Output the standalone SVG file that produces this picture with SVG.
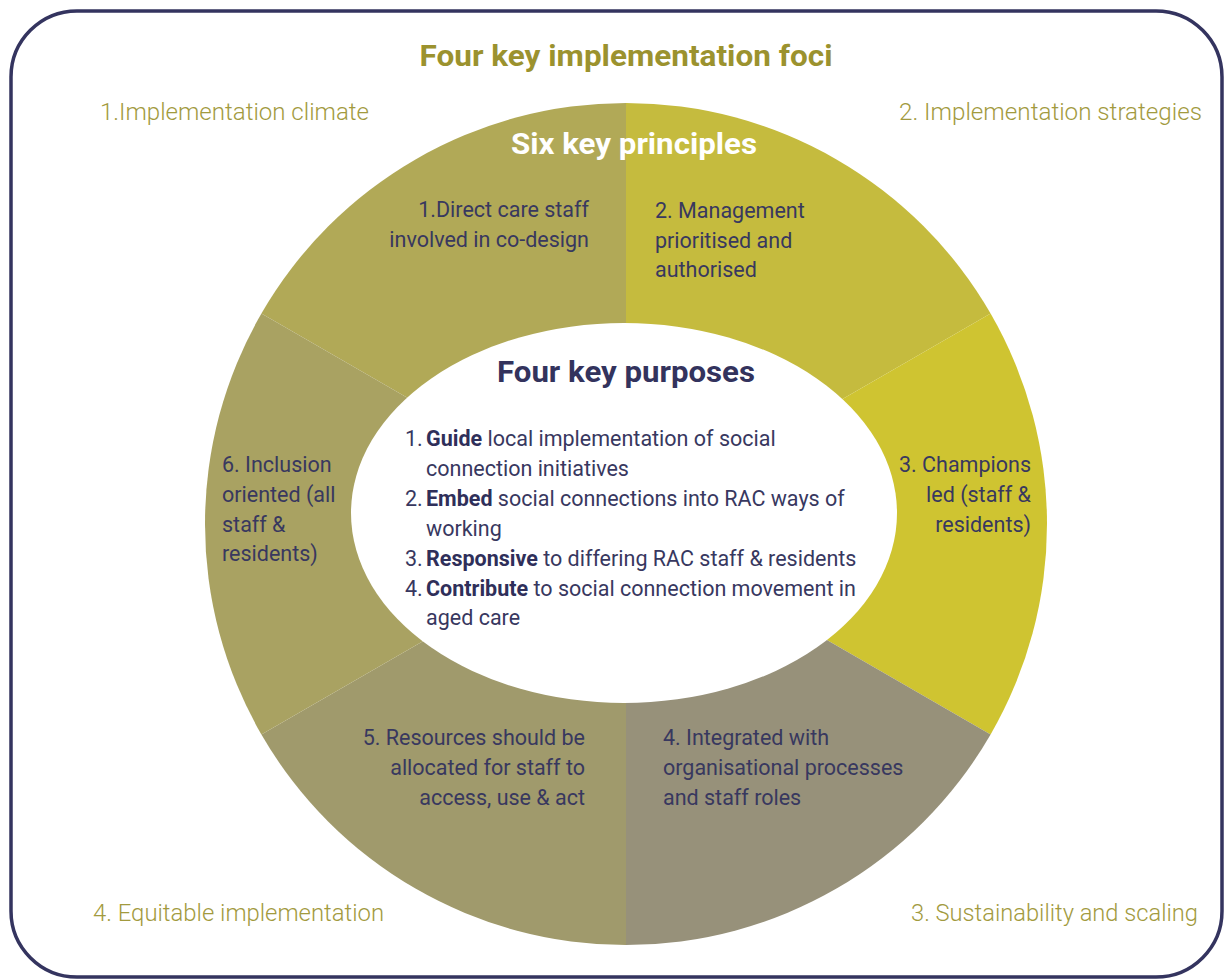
<svg xmlns="http://www.w3.org/2000/svg" width="1225" height="979" viewBox="0 0 1225 979">
  <style>
    .frame { fill: #ffffff; stroke: #34345f; stroke-width: 3.5; }
    .title { font-family: Roboto, "Liberation Sans", sans-serif; font-weight: 700; font-size: 29px; fill: #9b922e; text-anchor: middle; }
    .focus { font-family: Roboto, "Liberation Sans", sans-serif; font-weight: 300; font-size: 23px; fill: #a29a3e; }
    .ring-title { font-family: Roboto, "Liberation Sans", sans-serif; font-weight: 700; font-size: 30px; fill: #ffffff; text-anchor: middle; }
    .core-title { font-family: Roboto, "Liberation Sans", sans-serif; font-weight: 700; font-size: 30px; fill: #33335d; text-anchor: middle; }
    .label { font-family: Roboto, "Liberation Sans", sans-serif; font-weight: 400; font-size: 21.5px; fill: #38385f; }
    .end { text-anchor: end; }
    .b { font-weight: 700; fill: #2f2f5a; }
  </style>

  <!-- outer frame -->
  <rect class="frame" x="11" y="11" width="1211" height="966" rx="66" ry="66"/>

  <!-- headings and implementation foci -->
  <g id="heading">
    <text class="title" x="626" y="66" textLength="413" lengthAdjust="spacingAndGlyphs">Four key implementation foci</text>
  </g>
  <g id="focus-1"><text class="focus" x="100" y="120" textLength="269" lengthAdjust="spacingAndGlyphs">1.Implementation climate</text></g>
  <g id="focus-2"><text class="focus" x="899" y="120" textLength="303" lengthAdjust="spacingAndGlyphs">2. Implementation strategies</text></g>
  <g id="focus-3"><text class="focus" x="911" y="921" textLength="287" lengthAdjust="spacingAndGlyphs">3. Sustainability and scaling</text></g>
  <g id="focus-4"><text class="focus" x="93" y="921" textLength="291" lengthAdjust="spacingAndGlyphs">4. Equitable implementation</text></g>

  <!-- six principle wedges, centre (626,524), r=421 -->
  <g id="principle-1">
    <path d="M626,524 L626,103 A421,421 0 0 0 261.4,313.5 Z" fill="#b1a957"/>
  </g>
  <g id="principle-2">
    <path d="M626,524 L626,103 A421,421 0 0 1 990.6,313.5 Z" fill="#c5bb3e"/>
  </g>
  <g id="principle-3">
    <path d="M626,524 L990.6,313.5 A421,421 0 0 1 990.6,734.5 Z" fill="#cfc431"/>
  </g>
  <g id="principle-4">
    <path d="M626,524 L990.6,734.5 A421,421 0 0 1 626,945 Z" fill="#97917a"/>
  </g>
  <g id="principle-5">
    <path d="M626,524 L626,945 A421,421 0 0 1 261.4,734.5 Z" fill="#a09a6c"/>
  </g>
  <g id="principle-6">
    <path d="M626,524 L261.4,734.5 A421,421 0 0 1 261.4,313.5 Z" fill="#a9a262"/>
  </g>

  <g id="ring-heading">
    <text class="ring-title" x="634" y="154" textLength="246" lengthAdjust="spacingAndGlyphs">Six key principles</text>
  </g>

  <!-- principle labels -->
  <g id="principle-labels">
    <text class="label end" x="589" y="217">1.Direct care staff</text>
    <text class="label end" x="589" y="247">involved in co-design</text>

    <text class="label" x="655" y="218">2. Management</text>
    <text class="label" x="655" y="248">prioritised and</text>
    <text class="label" x="655" y="277">authorised</text>

    <text class="label end" x="1031" y="472">3. Champions</text>
    <text class="label end" x="1031" y="502">led (staff &amp;</text>
    <text class="label end" x="1031" y="532">residents)</text>

    <text class="label" x="663" y="745">4. Integrated with</text>
    <text class="label" x="663" y="775">organisational processes</text>
    <text class="label" x="663" y="805">and staff roles</text>

    <text class="label end" x="585" y="745">5. Resources should be</text>
    <text class="label end" x="585" y="775">allocated for staff to</text>
    <text class="label end" x="585" y="805">access, use &amp; act</text>

    <text class="label" x="222" y="472">6. Inclusion</text>
    <text class="label" x="222" y="502">oriented (all</text>
    <text class="label" x="222" y="532">staff &amp;</text>
    <text class="label" x="222" y="561">residents)</text>
  </g>

  <!-- central purposes -->
  <g id="purposes">
    <ellipse cx="624" cy="513" rx="273" ry="190" fill="#ffffff"/>
    <text class="core-title" x="626" y="382" textLength="258" lengthAdjust="spacingAndGlyphs">Four key purposes</text>
    <text class="label" x="405" y="446">1.</text>
    <text class="label" x="426" y="446"><tspan class="b">Guide</tspan> local implementation of social</text>
    <text class="label" x="426" y="476">connection initiatives</text>
    <text class="label" x="405" y="506">2.</text>
    <text class="label" x="426" y="506"><tspan class="b">Embed</tspan> social connections into RAC ways of</text>
    <text class="label" x="426" y="536">working</text>
    <text class="label" x="405" y="566">3.</text>
    <text class="label" x="426" y="566"><tspan class="b">Responsive</tspan> to differing RAC staff &amp; residents</text>
    <text class="label" x="405" y="596">4.</text>
    <text class="label" x="426" y="596"><tspan class="b">Contribute</tspan> to social connection movement in</text>
    <text class="label" x="426" y="625">aged care</text>
  </g>

  <g id="connectors"/>
</svg>
